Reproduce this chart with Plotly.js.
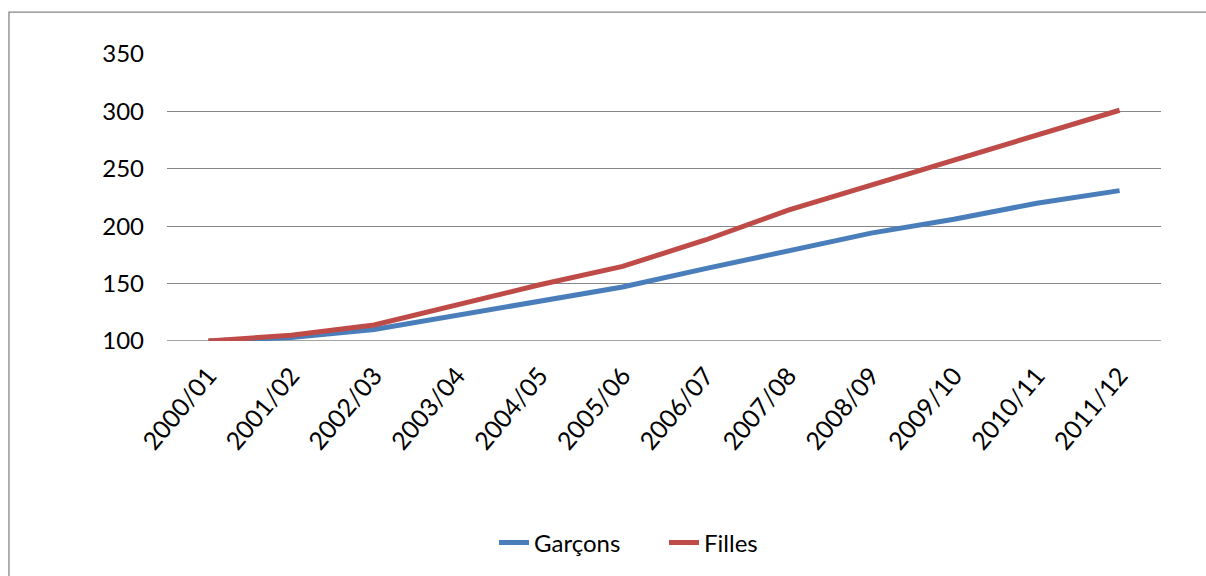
<!DOCTYPE html>
<html><head><meta charset="utf-8">
<script src="https://cdn.plot.ly/plotly-3.0.1.min.js"></script>
<style>body{margin:0;background:#fff}#c{width:1206px;height:576px}</style>
</head><body><div id="c"></div>
<script>
const categories = ["2000/01","2001/02","2002/03","2003/04","2004/05","2005/06","2006/07","2007/08","2008/09","2009/10","2010/11","2011/12"];
const garcons = [100, 103, 110, 122, 135, 147, 163, 179, 194, 206, 220, 231];
const filles  = [100, 105, 114, 132, 149, 165, 188, 214, 236, 258, 280, 301];
const yTicks = [100, 150, 200, 250, 300, 350];

const fam = "Lato, 'Open Sans', sans-serif";
const font = {family: fam, size: 23, color: "#000"};
const traces = [
  {x: categories, y: garcons, name: "Garçons", type: "scatter", mode: "lines",
   line: {color: "#4A7EBB", width: 5}},
  {x: categories, y: filles, name: "Filles", type: "scatter", mode: "lines",
   line: {color: "#BE4B48", width: 5}}
];
const layout = {
  width: 1206, height: 576,
  margin: {l: 167, r: 45, t: 54, b: 234},
  paper_bgcolor: "#fff", plot_bgcolor: "#fff",
  font: font,
  showlegend: true,
  legend: {orientation: "h", x: 0.329, xanchor: "left", y: -0.698, yanchor: "middle",
           entrywidth: 125, font: {family: fam, size: 24, color: "#000"}, bgcolor: "rgba(0,0,0,0)"},
  xaxis: {type: "category", tickangle: -50, showgrid: false, zeroline: false,
          showline: false, ticks: "", ticklabelstandoff: 14,
          tickfont: {family: fam, size: 25, color: "#000"}, range: [-0.5, 11.5], fixedrange: true},
  yaxis: {range: [100, 350], tickvals: yTicks, ticktext: yTicks.map(String),
          showgrid: true, gridcolor: "#868686", gridwidth: 1.3, zeroline: false,
          showline: false, ticks: "", ticklabelstandoff: 22,
          tickfont: {family: fam, size: 24, color: "#000"}, fixedrange: true},
  shapes: [
    {type: "line", xref: "paper", yref: "y", x0: 0, x1: 1, y0: 100, y1: 100,
     line: {color: "#868686", width: 1.3}, layer: "below"},
    {type: "rect", xref: "paper", yref: "paper", x0: -0.159, x1: 1.06, y0: -0.83, y1: 1.146,
     line: {color: "#868686", width: 1.3}, fillcolor: "rgba(0,0,0,0)"}
  ]
};
Plotly.newPlot("c", traces, layout, {displayModeBar: false, staticPlot: true});
</script></body></html>
